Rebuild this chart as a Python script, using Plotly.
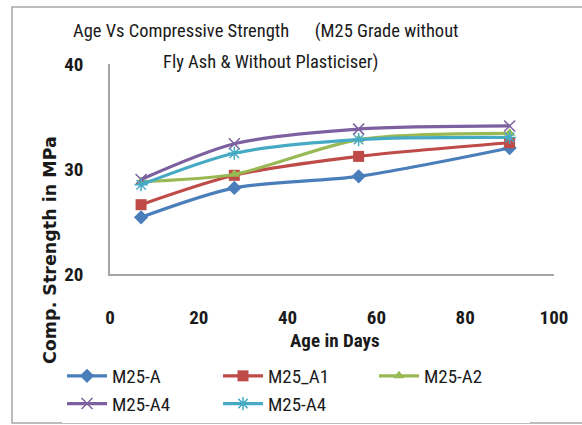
import plotly.graph_objects as go

days = [7, 28, 56, 90]
m25_a = [25.4, 28.2, 29.3, 32.0]
m25_a1 = [26.6, 29.4, 31.2, 32.5]
m25_a2 = [28.8, 29.5, 32.8, 33.4]
m25_a4_x = [29.0, 32.4, 33.8, 34.1]
m25_a4_star = [28.5, 31.5, 32.8, 33.0]

title_line1 = "Age Vs Compressive Strength&nbsp;&nbsp;&nbsp;&nbsp;&nbsp;&nbsp;(M25 Grade without"
title_line2 = "Fly Ash & Without Plasticiser)"
x_title = "Age in Days"
y_title = "Comp. Strength in MPa"

series = [
    ("M25-A", m25_a, "#4A7EBB", "diamond", 11, 0),
    ("M25_A1", m25_a1, "#BE4B48", "square", 11, 0),
    ("M25-A2", m25_a2, "#98B954", "triangle-up", 10, 0),
    ("M25-A4", m25_a4_x, "#7D60A0", "x-thin-open", 11, 1.5),
    ("M25-A4", m25_a4_star, "#46AAC5", "asterisk-open", 11, 1.5),
]

FONT = "Liberation Sans Narrow, Roboto Condensed, Arial Narrow, sans-serif"

fig = go.Figure()
for name, ys, color, sym, size, lw in series:
    fig.add_trace(go.Scatter(
        x=days, y=ys, name=name, mode="lines+markers",
        line=dict(color=color, width=3.2, shape="spline", smoothing=0.8),
        marker=dict(symbol=sym, size=size, color=color,
                    line=dict(color=color, width=lw)),
    ))

W, H = 582, 425
ml, mr, mt, mb = 110, 28, 64, 151
pw, ph = W - ml - mr, H - mt - mb

def px(x):
    return (x - ml) / pw

def py(y):
    return (H - mb - y) / ph

fig.update_layout(
    width=W, height=H,
    margin=dict(l=ml, r=mr, t=mt, b=mb, autoexpand=False),
    paper_bgcolor="white", plot_bgcolor="white",
    font=dict(family=FONT, color="#1a1a1a", size=15),
    xaxis=dict(
        range=[0, 100], dtick=20, showgrid=False, zeroline=False,
        showline=True, linecolor="#A6A6A6", linewidth=1.5,
        ticks="", tickfont=dict(size=19, family=FONT, weight="bold"),
        ticklabelstandoff=25,
    ),
    yaxis=dict(
        range=[20, 40], dtick=10, showgrid=False, zeroline=False,
        showline=True, linecolor="#A6A6A6", linewidth=1.5,
        ticks="", tickfont=dict(size=19, family=FONT, weight="bold"),
        ticklabelstandoff=21,
    ),
    legend=dict(
        orientation="h", x=px(62), xanchor="left", y=py(357), yanchor="top",
        entrywidth=101, entrywidthmode="pixels",
        font=dict(size=19, family=FONT, color="#1a1a1a"),
        tracegroupgap=0, itemwidth=40,
    ),
    showlegend=True,
)

fig.add_annotation(text=title_line1, xref="paper", yref="paper",
                   x=px(266), y=py(31), xanchor="center", yanchor="middle",
                   showarrow=False, font=dict(size=18.5, family=FONT, color="#1a1a1a"))
fig.add_annotation(text=title_line2, xref="paper", yref="paper",
                   x=px(270), y=py(62), xanchor="center", yanchor="middle",
                   showarrow=False, font=dict(size=18.5, family=FONT, color="#1a1a1a"))
fig.add_annotation(text=x_title, xref="paper", yref="paper",
                   x=px(335), y=py(340), xanchor="center", yanchor="middle",
                   showarrow=False,
                   font=dict(size=19, family=FONT, color="#1a1a1a", weight="bold"))
fig.add_annotation(text=y_title, xref="paper", yref="paper", textangle=-90,
                   x=px(50), y=py(250), xanchor="center", yanchor="middle",
                   showarrow=False,
                   font=dict(size=17.5, family="DejaVu Sans", color="#1a1a1a", weight="bold"))

fig.add_shape(type="rect", xref="paper", yref="paper",
              x0=px(12), x1=px(600), y0=py(423), y1=py(7),
              line=dict(color="#A6A6A6", width=1.5), layer="below")

fig.write_html("out.html")
